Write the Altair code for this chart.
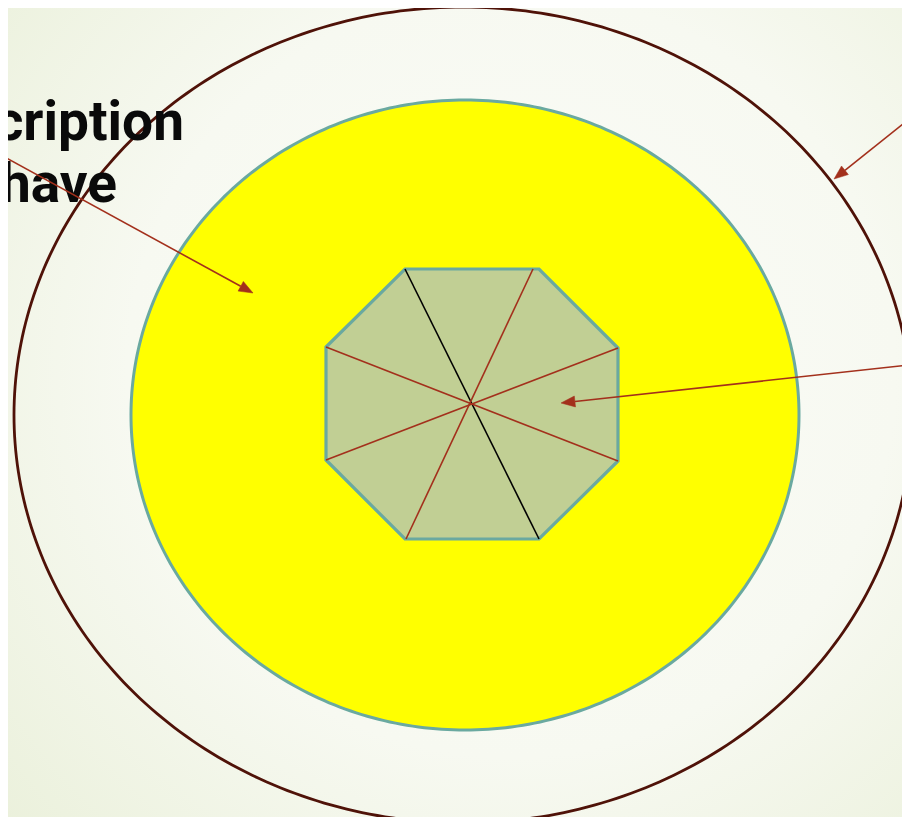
import altair as alt
import numpy as np

# ---- geometry (page pixel coordinates) ----
outer_ellipse = {"cx": 463, "cy": 415, "rx": 449, "ry": 408}
inner_ellipse = {"cx": 465, "cy": 415, "rx": 334, "ry": 315}

octagon_x = [405, 539, 618, 618, 539, 405, 326, 326]
octagon_y = [269, 269, 348, 461, 539, 539, 460, 347]

spoke_x1 = [405, 533, 326, 326]
spoke_y1 = [269, 269, 347, 460]
spoke_x2 = [539, 406, 618, 618]
spoke_y2 = [539, 539, 461, 348]
spoke_color = ["black", "red", "red", "red"]

arrow_x1 = [-10, 918, 918]
arrow_y1 = [149, 112, 364]
arrow_x2 = [253, 834, 561]
arrow_y2 = [293, 179, 403]

labels = ["cription", "have"]
label_x = [184, 117]
label_y = [140, 202]

W, H = 894, 809
OFF = 8


def ellipse_ring(e, n=360):
    t = np.linspace(0, 2 * np.pi, n + 1)
    return [[float(e["cx"] + e["rx"] * np.cos(a)), float(e["cy"] + e["ry"] * np.sin(a))] for a in t]


def feat(geom, **props):
    return {"type": "Feature", "geometry": geom, "properties": props}


def polygon(ring):
    return {"type": "Polygon", "coordinates": [ring]}


def line(coords):
    return {"type": "LineString", "coordinates": coords}


def geo_layer(features, **mark):
    return alt.Chart(alt.Data(values=features)).mark_geoshape(**mark).project(
        type="identity", scale=1, translate=[-OFF, -OFF]
    )


bg_ring = [[0, 0], [930, 0], [930, 840], [0, 840], [0, 0]]
background = geo_layer(
    [feat(polygon(bg_ring))],
    strokeWidth=0,
    fill=alt.Gradient(
        gradient="radial",
        stops=[
            alt.GradientStop(color="#fbfcf8", offset=0),
            alt.GradientStop(color="#f7f9f1", offset=0.55),
            alt.GradientStop(color="#eaf0da", offset=1),
        ],
        x1=0.55, y1=0.45, r1=0, x2=0.55, y2=0.45, r2=0.75,
    ),
)

outer = geo_layer([feat(polygon(ellipse_ring(outer_ellipse)))],
                  fill="#fafbf6", fillOpacity=0, stroke="#4f1208", strokeWidth=2.8)

inner = geo_layer([feat(polygon(ellipse_ring(inner_ellipse)))],
                  fill="#ffff00", stroke="#6aa9a0", strokeWidth=3)

oct_ring = [[x, y] for x, y in zip(octagon_x, octagon_y)]
oct_ring.append(oct_ring[0])
octo = geo_layer([feat(polygon(oct_ring))],
                 fill="#c1cf94", stroke="#6aa9a0", strokeWidth=3.2, strokeJoin="miter")

spoke_feats = [feat(line([[a, b], [c, d]]), col=col)
               for a, b, c, d, col in zip(spoke_x1, spoke_y1, spoke_x2, spoke_y2, spoke_color)]
spokes = geo_layer(spoke_feats, filled=False, strokeWidth=1.6).encode(
    stroke=alt.Stroke("properties.col:N",
                      scale=alt.Scale(domain=["black", "red"], range=["#000000", "#a3301c"]),
                      legend=None)
)

# arrows: shaft + filled head
shaft_feats = []
head_feats = []
for a, b, c, d in zip(arrow_x1, arrow_y1, arrow_x2, arrow_y2):
    v = np.array([c - a, d - b], dtype=float)
    u = v / np.linalg.norm(v)
    nrm = np.array([-u[1], u[0]])
    tip = np.array([c, d], dtype=float)
    base = tip - 14 * u
    shaft_feats.append(feat(line([[a, b], [float(base[0]), float(base[1])]])))
    p1 = base + 5.5 * nrm
    p2 = base - 5.5 * nrm
    head_feats.append(feat(polygon([[float(tip[0]), float(tip[1])],
                                    [float(p1[0]), float(p1[1])],
                                    [float(p2[0]), float(p2[1])],
                                    [float(tip[0]), float(tip[1])]])))

shafts = geo_layer(shaft_feats, filled=False, stroke="#a3301c", strokeWidth=1.6)
heads = geo_layer(head_feats, fill="#a3301c", stroke="#a3301c", strokeWidth=0.5)

text_layers = []
for t, x, y in zip(labels, label_x, label_y):
    text_layers.append(
        alt.Chart(alt.Data(values=[{"t": t}])).mark_text(
            align="right", baseline="alphabetic", font="Roboto", fontWeight="bold",
            fontSize=55, color="#0a0a0a",
        ).encode(text="t:N", x=alt.value(x - OFF), y=alt.value(y - OFF))
    )

chart = alt.layer(
    background, outer, inner, octo, spokes, *text_layers, shafts, heads
).properties(
    width=W, height=H, autosize=alt.AutoSizeParams(type="none"), padding=0
).configure_view(stroke=None)

chart.save("out.html", embed_options={"renderer": "svg", "actions": False})
